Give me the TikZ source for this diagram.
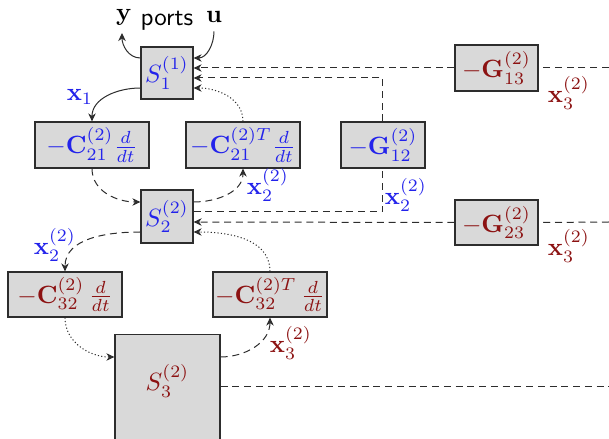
\documentclass[tikz,border=0pt]{standalone}
\usetikzlibrary{arrows.meta,calc}
\definecolor{cblue}{RGB}{35,35,235}
\definecolor{cred}{RGB}{140,18,18}
\definecolor{cfill}{RGB}{217,217,217}
\definecolor{cline}{RGB}{45,45,45}
\begin{document}
\begin{tikzpicture}[x=0.4pt,y=-0.4pt,
  box/.style={draw=cline, fill=cfill, line width=0.5pt, inner sep=0pt},
  conn/.style={cline, line width=0.4pt},
  arr/.style={-{Stealth[length=3.2pt,width=3pt,inset=1pt]}},
  dsh/.style={dash pattern=on 2.8pt off 1.9pt},
  dts/.style={dash pattern=on 0.45pt off 0.9pt},
  bl/.style={text=cblue},
  rd/.style={text=cred}]
\useasboundingbox (0,0) rectangle (609,439);
% nodes
\node[box,bl,minimum width=20.8pt,minimum height=20.8pt] (S1) at (167,73) {$S_1^{(1)}$};
\node (y) at (124,17) {$\mathbf{y}$};
\node (ports) at (167,21) {\textsf{ports}};
\node (u) at (214,17) {$\mathbf{u}$};
\node[box,bl,minimum width=45.6pt,minimum height=18.4pt] (C21) at (92,145) {$-\mathbf{C}^{(2)}_{21}\frac{d}{dt}$};
\node[box,bl,minimum width=45.6pt,minimum height=18.4pt] (C21T) at (243,145) {$-\mathbf{C}^{(2)T}_{21}\frac{d}{dt}$};
\node[box,bl,minimum width=33.6pt,minimum height=18.4pt] (G12) at (383,145) {$-\mathbf{G}^{(2)}_{12}$};
\node[box,rd,minimum width=33.2pt,minimum height=18.4pt] (G13) at (496.5,68) {$-\mathbf{G}^{(2)}_{13}$};
\node[box,bl,minimum width=20.8pt,minimum height=21.2pt] (S2) at (167,216.5) {$S_2^{(2)}$};
\node[box,rd,minimum width=33.2pt,minimum height=18pt] (G23) at (496.5,222.5) {$-\mathbf{G}^{(2)}_{23}$};
\node[box,rd,minimum width=45.6pt,minimum height=18pt] (C32) at (65,294.5) {$-\mathbf{C}^{(2)}_{32}\,\frac{d}{dt}$};
\node[box,rd,minimum width=45.6pt,minimum height=18pt] (C32T) at (270,294.5) {$-\mathbf{C}^{(2)T}_{32}\,\frac{d}{dt}$};
\node[box,minimum width=42pt,minimum height=50pt,anchor=north] (S3) at (167.5,334) {};
\node[rd] (S3t) at (167.5,381) {$S_3^{(2)}$};
% labels
\node[bl] (lx1) at (80,97) {$\mathbf{x}_1$};
\node[bl] (lx2a) at (268,185) {$\mathbf{x}_2^{(2)}$};
\node[bl] (lx2b) at (406,195) {$\mathbf{x}_2^{(2)}$};
\node[bl] (lx2c) at (55,245) {$\mathbf{x}_2^{(2)}$};
\node[rd] (lx3a) at (569,93) {$\mathbf{x}_3^{(2)}$};
\node[rd] (lx3b) at (569,246) {$\mathbf{x}_3^{(2)}$};
\node[rd] (lx3c) at (291,343) {$\mathbf{x}_3^{(2)}$};
% free ends
\coordinate (e13) at (609,68);
\coordinate (e23) at (609,222);
\coordinate (e3) at (609,387);
\coordinate (k1) at (383,212);
\coordinate (k2) at (383,78);
% ports
\draw[conn,arr] (S1.west |- 0,58) to[out=180,in=-90] (122,33);
\draw[conn,arr] (u.south) to[out=-90,in=0] (S1.east |- 0,58);
% S1 - C21
\draw[conn,arr] (S1.west |- 0,88) to[out=180,in=90] (C21.north);
\draw[conn,dsh,arr] (C21.south) to[out=-90,in=180] (S2.west |- 0,202);
\draw[conn,dsh,arr] (S2.east |- 0,202) to[out=0,in=-90] (C21T.south);
\draw[conn,dts,arr] (C21T.north) to[out=90,in=0] (S1.east |- 0,88);
% G12
\draw[conn,dsh] (S2.east |- 0,212) -- (k1) -- (G12.south);
\draw[conn,dsh,arr] (G12.north) -- (k2) -- (S1.east |- 0,78);
% G13
\draw[conn,dsh] (e13) -- (G13.east);
\draw[conn,dsh,arr] (G13.west) -- (S1.east |- 0,68);
% G23
\draw[conn,dsh] (e23) -- (G23.east);
\draw[conn,dsh,arr] (G23.west) -- (S2.east |- 0,222);
% S2 - C32
\draw[conn,dsh,arr] (S2.west |- 0,232) to[out=180,in=90] (C32.north);
\draw[conn,dts,arr] (C32.south) to[out=-90,in=180] (S3.west |- 0,357);
\draw[conn,dsh,arr] (S3.east |- 0,357) to[out=0,in=-90] (C32T.south);
\draw[conn,dts,arr] (C32T.north) to[out=90,in=0] (S2.east |- 0,232);
% S3 out
\draw[conn,dsh] (S3.east |- 0,387) -- (e3);
\end{tikzpicture}
\end{document}
